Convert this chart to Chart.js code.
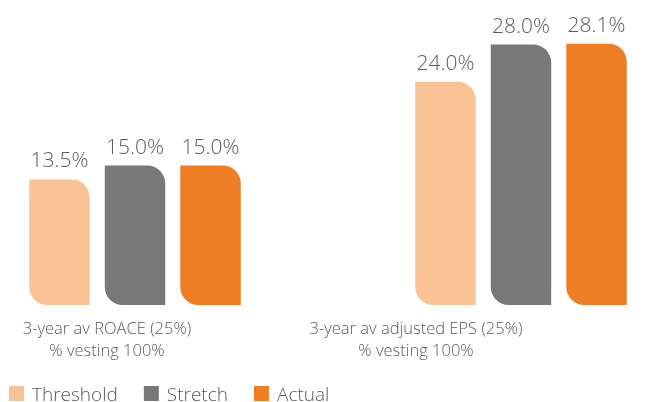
<!DOCTYPE html>
<html>
<head>
<meta charset="utf-8">
<script src="https://cdn.jsdelivr.net/npm/chart.js@4/dist/chart.umd.min.js"></script>
<style>
  html, body { margin: 0; padding: 0; background: #fff; }
  #wrap { width: 654px; height: 402px; }
</style>
</head>
<body>
<div id="wrap"><canvas id="vesting"></canvas></div>
<script>
// measures (two groups) and the three series
const categories = [
  ['3-year av ROACE (25%)', '% vesting 100%'],
  ['3-year av adjusted EPS (25%)', '% vesting 100%']
];
const thresholdValues = [13.5, 24.0];
const stretchValues = [15.0, 28.0];
const actualValues = [15.0, 28.1];

const seriesNames = ['Threshold', 'Stretch', 'Actual'];
const seriesColors = ['#F9C395', '#787878', '#EE7D23'];

const FONT = '"Open Sans", "Liberation Sans", sans-serif';
const TEXT = '#5a5a5a';

// leaf-shaped bars: rounded top-right and bottom-left
const leaf = { topLeft: 0, topRight: 18, bottomLeft: 18, bottomRight: 0 };

// labels over bars, captions under groups, and the legend row
const decorations = {
  id: 'decorations',
  afterDatasetsDraw(chart) {
    const ctx = chart.ctx;
    ctx.save();
    ctx.fillStyle = TEXT;
    ctx.textAlign = 'center';
    ctx.textBaseline = 'alphabetic';
    ctx.font = '300 21px ' + FONT;
    chart.data.datasets.forEach((ds, di) => {
      chart.getDatasetMeta(di).data.forEach((bar, i) => {
        ctx.fillText(ds.data[i].toFixed(1) + '%', bar.x, bar.y - 12);
      });
    });

    // captions sit a little left of each bar group
    const x = chart.scales.x;
    const shifts = [-28, -105];
    ctx.font = '300 16.5px ' + FONT;
    categories.forEach((lines, i) => {
      const cx = x.getPixelForValue(i) + shifts[i];
      lines.forEach((t, j) => ctx.fillText(t, cx, 334 + j * 22));
    });

    // legend
    ctx.textAlign = 'left';
    ctx.font = '300 19px ' + FONT;
    let lx = 9;
    chart.data.datasets.forEach((ds) => {
      ctx.fillStyle = ds.backgroundColor;
      ctx.fillRect(lx, 386, 15, 15);
      lx += 23;
      ctx.fillStyle = TEXT;
      ctx.fillText(ds.label, lx, 401);
      lx += ctx.measureText(ds.label).width + 26;
    });
    ctx.restore();
  }
};

const seriesData = [thresholdValues, stretchValues, actualValues];

new Chart(document.getElementById('vesting'), {
  type: 'bar',
  data: {
    labels: categories,
    datasets: seriesNames.map((name, i) => ({
      label: name,
      data: seriesData[i],
      backgroundColor: seriesColors[i],
      borderWidth: 0,
      borderSkipped: false,
      borderRadius: leaf,
      clip: false,
      categoryPercentage: 0.587,
      barPercentage: 0.8
    }))
  },
  options: {
    responsive: true,
    maintainAspectRatio: false,
    animation: false,
    layout: { padding: { left: 135, right: 133, top: 26, bottom: 97 } },
    plugins: { legend: { display: false }, tooltip: { enabled: false } },
    scales: {
      x: { display: false, offset: false },
      y: { display: false, min: 0, max: 30 }
    }
  },
  plugins: [decorations]
});
</script>
</body>
</html>
